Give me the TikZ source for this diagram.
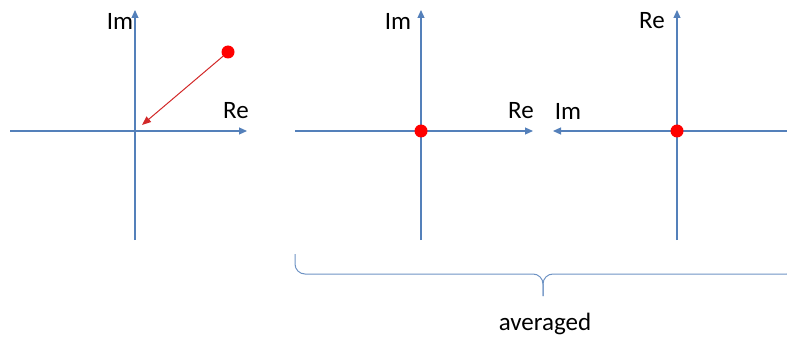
\documentclass[tikz,border=0pt]{standalone}
\usepackage{fontspec}
\setmainfont{Carlito}
\definecolor{axisblue}{RGB}{84,128,186}
\definecolor{dotred}{RGB}{255,0,0}
\definecolor{arrowred}{RGB}{210,40,40}
\usepackage{tikz}
\usetikzlibrary{arrows.meta}

\tikzset{
  axis/.style={-{Triangle[length=8pt,width=7pt]},line width=1.2pt,axisblue},
  bracepart/.style={line width=1pt,axisblue!85,rounded corners=10pt},
  dot/.style={circle,fill=dotred,inner sep=0pt,minimum size=13pt},
  lbl/.style={font=\fontsize{25}{30}\selectfont,inner sep=0pt}
}

\begin{document}
\begin{tikzpicture}[x=1pt,y=-1pt]
  \path[use as bounding box] (0,0) rectangle (787,342);

  % first plane
  \coordinate (aW) at (10,131);
  \coordinate (aE) at (247,131);
  \coordinate (aS) at (135,240);
  \coordinate (aN) at (135,10);
  \draw[axis] (aW) -- (aE);
  \draw[axis] (aS) -- (aN);
  \node[lbl] (aIm) at (120,21) {Im};
  \node[lbl] (aRe) at (236,111) {Re};
  \node[dot] (aDot) at (228,52) {};
  \coordinate (aTip) at (142,125);
  \draw[-{Triangle[length=9pt,width=7pt]},line width=1pt,arrowred]
    (aDot) -- (aTip);

  % second plane
  \coordinate (bW) at (295,131);
  \coordinate (bE) at (533,131);
  \coordinate (bS) at (421,240);
  \coordinate (bN) at (421,10);
  \draw[axis] (bW) -- (bE);
  \draw[axis] (bS) -- (bN);
  \node[lbl] (bIm) at (398,21) {Im};
  \node[lbl] (bRe) at (521,111) {Re};
  \node[dot] (bDot) at (421,131) {};

  % third plane
  \coordinate (cE) at (787,131);
  \coordinate (cW) at (553,131);
  \coordinate (cS) at (677,240);
  \coordinate (cN) at (677,10);
  \draw[axis] (cE) -- (cW);
  \draw[axis] (cS) -- (cN);
  \node[lbl] (cRe) at (652,21) {Re};
  \node[lbl] (cIm) at (568,111) {Im};
  \node[dot] (cDot) at (677,131) {};

  % brace
  \coordinate (brL) at (295,254);
  \coordinate (brR) at (797,254);
  \coordinate (brM) at (543,274);
  \coordinate (brT) at (543,296);
  \draw[bracepart] (brL) -- (brL |- brM) -- (brM) -- (brT);
  \draw[bracepart] (brR) -- (brR |- brM) -- (brM) -- (brT);
  \node[lbl] (avg) at (545,324) {averaged};
\end{tikzpicture}
\end{document}
